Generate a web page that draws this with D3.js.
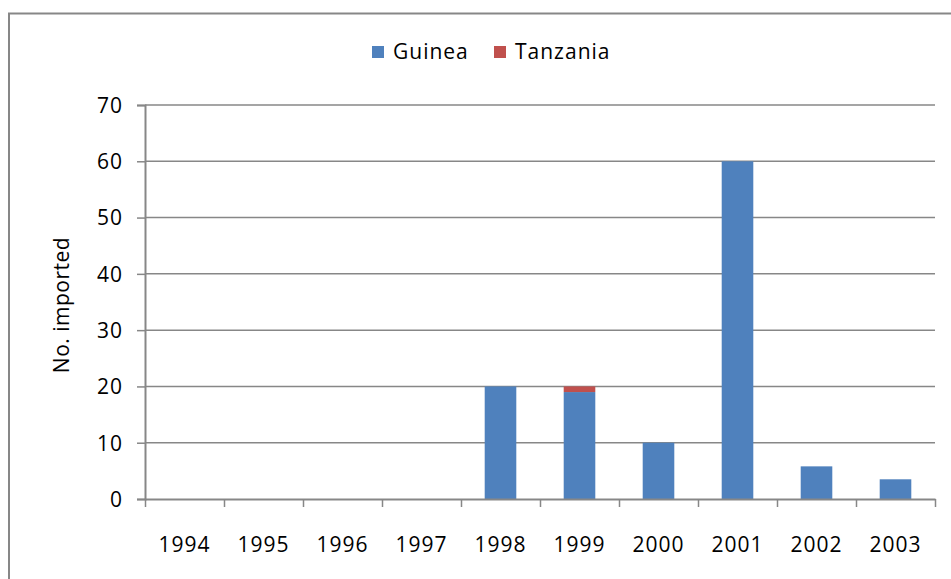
<!DOCTYPE html>
<html>
<head>
<meta charset="utf-8">
<script src="https://cdn.jsdelivr.net/npm/d3@7"></script>
<style>
  body { margin: 0; background: #fff; }
  text { font-family: "Open Sans", "Liberation Sans", sans-serif; fill: #000; }
</style>
</head>
<body>
<svg id="chart" width="951" height="579"></svg>
<script>
const years = ['1994', '1995', '1996', '1997', '1998', '1999', '2000', '2001', '2002', '2003']
const guinea = [0, 0, 0, 0, 20, 19, 10, 60, 5.8, 3.5]
const tanzania = [0, 0, 0, 0, 0, 1, 0, 0, 0, 0]
const seriesNames = ['Guinea', 'Tanzania']
const seriesColors = ['#4f81bd', '#c0504d']
const yTicks = [0, 10, 20, 30, 40, 50, 60, 70]

const svg = d3.select('#chart')
const grey = '#878787'

// outer chart border (runs off the right/bottom edge)
svg.append('rect')
  .attr('x', 9).attr('y', 13.5)
  .attr('width', 960).attr('height', 600)
  .attr('fill', 'none')
  .attr('stroke', grey)
  .attr('stroke-width', 2)

let m = { left: 145, right: 935, top: 105, bottom: 499 }

let y = d3.scaleLinear().domain([0, 70]).range([m.bottom, m.top])
let x = d3.scaleBand().domain(years).range([m.left, m.right])
  .paddingInner(0.6).paddingOuter(0.3)
let xEdge = d3.scaleLinear().domain([0, years.length]).range([m.left, m.right])

// gridlines
svg.append('g')
  .selectAll('line')
  .data(yTicks.filter(d => d > 0))
  .enter().append('line')
    .attr('x1', m.left).attr('x2', m.right)
    .attr('y1', d => y(d)).attr('y2', d => y(d))
    .attr('stroke', grey)
    .attr('stroke-width', 1.5)

// stacked bars
let table = years.map((yr, i) => ({ year: yr, Guinea: guinea[i], Tanzania: tanzania[i] }))
let stacked = d3.stack().keys(seriesNames)(table)

svg.append('g')
  .selectAll('g')
  .data(stacked)
  .enter().append('g')
    .attr('fill', (d, i) => seriesColors[i])
  .selectAll('rect')
  .data(d => d)
  .enter().append('rect')
    .attr('x', d => x(d.data.year))
    .attr('width', x.bandwidth())
    .attr('y', d => y(d[1]))
    .attr('height', d => y(d[0]) - y(d[1]))

// y axis
let yAxis = svg.append('g')
  .attr('transform', `translate(${m.left},0)`)
  .call(d3.axisLeft(y).tickValues(yTicks).tickSize(8).tickPadding(14))
yAxis.select('.domain').attr('stroke', grey).attr('stroke-width', 2)
yAxis.selectAll('.tick line').attr('stroke', grey).attr('stroke-width', 1.5)
yAxis.selectAll('.tick text')
  .style('font-size', '21px')
  .style('letter-spacing', '1px')
  .attr('dy', '0.35em')

// x axis: line and ticks between categories
let xAxis = svg.append('g')
  .attr('transform', `translate(0,${m.bottom})`)
  .call(d3.axisBottom(xEdge).tickValues(d3.range(years.length + 1)).tickSize(8).tickFormat('').tickSizeOuter(0))
xAxis.select('.domain').attr('stroke', grey).attr('stroke-width', 2)
xAxis.selectAll('.tick line').attr('stroke', grey).attr('stroke-width', 1.5)

// x labels under category centres
svg.append('g')
  .attr('transform', `translate(0,${m.bottom})`)
  .call(d3.axisBottom(x).tickSize(0).tickPadding(38))
  .call(g => g.select('.domain').remove())
  .selectAll('text')
    .style('font-size', '21px')
    .style('letter-spacing', '1px')

// y title
svg.append('text')
  .attr('transform', 'translate(69,305) rotate(-90)')
  .attr('text-anchor', 'middle')
  .style('font-size', '21px')
  .style('letter-spacing', '0.5px')
  .text('No. imported')

// legend
let legend = svg.append('g')
  .selectAll('g')
  .data(seriesNames)
  .enter().append('g')
    .attr('transform', (d, i) => `translate(${[372, 494][i]},46)`)
legend.append('rect')
  .attr('width', 12).attr('height', 12)
  .attr('fill', (d, i) => seriesColors[i])
legend.append('text')
  .attr('x', 21).attr('y', 6)
  .attr('dy', '0.35em')
  .style('font-size', '21px')
  .style('letter-spacing', '1px')
  .text(d => d)
</script>
</body>
</html>
